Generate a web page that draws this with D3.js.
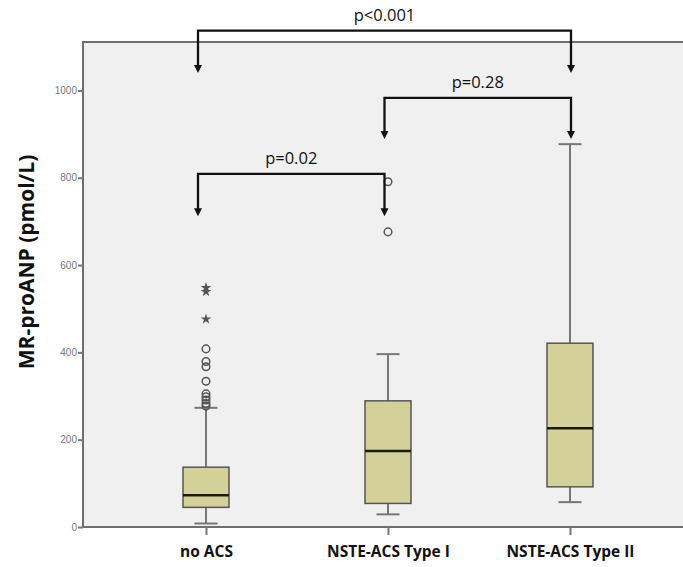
<!DOCTYPE html>
<html>
<head>
<meta charset="utf-8">
<script src="https://cdn.jsdelivr.net/npm/d3@7"></script>
<style>
  body { margin: 0; background: #fff; }
  .ytick text { font-family: "Liberation Sans", Arial, sans-serif; font-size: 10px; fill: #777; }
  .xtick text { font-family: "Open Sans", sans-serif; font-size: 15.5px; font-weight: 700; fill: #111; }
  .tick line { stroke: #777; stroke-width: 2; }
</style>
</head>
<body>
<svg id="chart" width="683" height="567"></svg>
<script>
// box summaries
const groups = ["no ACS", "NSTE-ACS Type I", "NSTE-ACS Type II"];
const lowWhisker = [8, 29, 57];
const q1 = [45, 54, 92];
const median = [73, 174, 226];
const q3 = [137, 289, 421];
const highWhisker = [273, 396, 877];
const circleOutliers = [[277, 283, 291, 298, 305, 334, 367, 379, 408], [676, 791], []];
const starOutliers = [[476, 539, 548], [], []];
const yTicks = [0, 200, 400, 600, 800, 1000];

// significance brackets
const compareFrom = ["no ACS", "NSTE-ACS Type I", "no ACS"];
const compareTo = ["NSTE-ACS Type I", "NSTE-ACS Type II", "NSTE-ACS Type II"];
const pLabels = ["p=0.02", "p=0.28", "p<0.001"];
const bracketLevel = [809, 983, 1137];
const arrowTip = [712, 889, 1040];

var svg = d3.select("#chart");

var plotLeft = 83, plotTop = 42, plotBottom = 527, plotRight = 700;

var y = d3.scaleLinear().domain([0, 1111]).range([plotBottom, plotTop]);
var x = d3.scalePoint().domain(groups).range([206, 570]);
var bx = d3.scalePoint().domain(groups).range([198, 571]);
var boxW = 46, capW = 23;

// plot frame
svg.append("rect")
    .attr("x", plotLeft).attr("y", plotTop)
    .attr("width", plotRight - plotLeft).attr("height", plotBottom - plotTop)
    .attr("fill", "#f0f0f0")
    .attr("stroke", "#6e6e6e")
    .attr("stroke-width", 2);

var yAxis = svg.append("g")
    .attr("class", "ytick")
    .attr("transform", "translate(" + plotLeft + ",0)")
    .call(d3.axisLeft(y).tickValues(yTicks).tickSize(5).tickPadding(1).tickFormat(d3.format("d")));
yAxis.select(".domain").remove();

var xAxis = svg.append("g")
    .attr("class", "xtick")
    .attr("transform", "translate(0," + plotBottom + ")")
    .call(d3.axisBottom(x).tickSize(8).tickPadding(11));
xAxis.select(".domain").remove();

svg.append("text")
    .attr("transform", "translate(34,262) rotate(-90)")
    .attr("text-anchor", "middle")
    .style("font-family", "'Open Sans', sans-serif")
    .style("font-size", "21px")
    .style("font-weight", "700")
    .style("fill", "#111")
    .text("MR-proANP (pmol/L)");

var box = svg.selectAll(".box")
    .data(groups)
  .enter().append("g")
    .attr("class", "box");

box.append("line")
    .attr("x1", d => x(d)).attr("x2", d => x(d))
    .attr("y1", (d, i) => y(lowWhisker[i]))
    .attr("y2", (d, i) => y(highWhisker[i]))
    .attr("stroke", "#777").attr("stroke-width", 2);

box.selectAll(".cap")
    .data((d, i) => [lowWhisker[i], highWhisker[i]].map(v => ({ g: d, v: v })))
  .enter().append("line")
    .attr("x1", d => x(d.g) - capW / 2).attr("x2", d => x(d.g) + capW / 2)
    .attr("y1", d => y(d.v)).attr("y2", d => y(d.v))
    .attr("stroke", "#777").attr("stroke-width", 2);

box.append("rect")
    .attr("x", d => x(d) - boxW / 2)
    .attr("y", (d, i) => y(q3[i]))
    .attr("width", boxW)
    .attr("height", (d, i) => y(q1[i]) - y(q3[i]))
    .attr("fill", "#d4d09a")
    .attr("stroke", "#555")
    .attr("stroke-width", 1.5);

box.append("line")
    .attr("x1", d => x(d) - boxW / 2).attr("x2", d => x(d) + boxW / 2)
    .attr("y1", (d, i) => y(median[i])).attr("y2", (d, i) => y(median[i]))
    .attr("stroke", "#1a1a10").attr("stroke-width", 2.5);

box.selectAll(".outlier")
    .data((d, i) => circleOutliers[i].map(v => ({ g: d, v: v })))
  .enter().append("circle")
    .attr("cx", d => x(d.g)).attr("cy", d => y(d.v))
    .attr("r", 3.8)
    .attr("fill", "none")
    .attr("stroke", "#555").attr("stroke-width", 1.5);

var star = d3.symbol().type(d3.symbolStar).size(36);
box.selectAll(".extreme")
    .data((d, i) => starOutliers[i].map(v => ({ g: d, v: v })))
  .enter().append("path")
    .attr("d", star)
    .attr("transform", d => "translate(" + x(d.g) + "," + y(d.v) + ")")
    .attr("fill", "#555");

// brackets with arrows
var br = svg.selectAll(".bracket")
    .data(pLabels)
  .enter().append("g")
    .attr("class", "bracket");

br.append("path")
    .attr("d", (d, i) => {
      var x0 = bx(compareFrom[i]), x1 = bx(compareTo[i]);
      var yl = y(bracketLevel[i]), yt = y(arrowTip[i]) - 6;
      return "M" + x0 + "," + yt + "V" + yl + "H" + x1 + "V" + yt;
    })
    .attr("fill", "none")
    .attr("stroke", "#111").attr("stroke-width", 2.3);

br.selectAll(".arrow")
    .data((d, i) => [compareFrom[i], compareTo[i]].map(g => ({ g: g, v: arrowTip[i] })))
  .enter().append("path")
    .attr("d", d => {
      var px = bx(d.g), py = y(d.v);
      return "M" + (px - 4) + "," + (py - 8) + "L" + (px + 4) + "," + (py - 8) + "L" + px + "," + py + "Z";
    })
    .attr("fill", "#111");

br.append("text")
    .attr("x", (d, i) => (bx(compareFrom[i]) + bx(compareTo[i])) / 2)
    .attr("y", (d, i) => y(bracketLevel[i]) - 10)
    .attr("text-anchor", "middle")
    .style("font-family", "'Open Sans', sans-serif")
    .style("font-size", "16.5px")
    .style("fill", "#111")
    .text(d => d);
</script>
</body>
</html>
